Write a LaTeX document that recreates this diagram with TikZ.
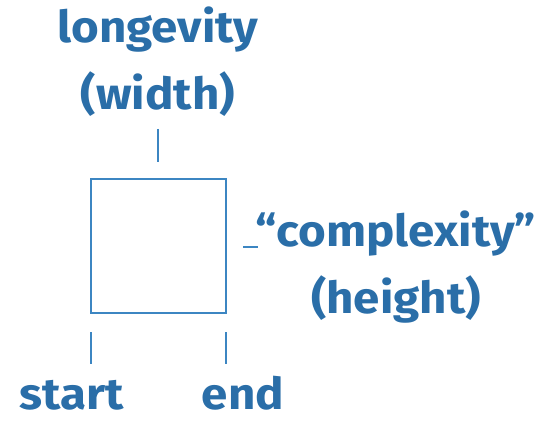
\documentclass[tikz,border=0pt]{standalone}
\usepackage{fontspec}
\setmainfont{Fira Sans}[FakeStretch=1.08]
\definecolor{txtblue}{HTML}{2A6EA8}
\definecolor{lineblue}{HTML}{3C86C2}
\begin{document}
\begin{tikzpicture}[x=1pt,y=-1pt,
  lbl/.style={text=txtblue,font=\fontsize{44}{48}\selectfont\bfseries,inner sep=0pt,anchor=base},
  tick/.style={draw=lineblue,line width=1.6pt},
  boxst/.style={draw=lineblue,line width=2pt}]
\useasboundingbox (0,0) rectangle (538,422);
\draw[boxst] (91,179) rectangle (226,313);
\coordinate (t1) at (158,129); \coordinate (t2) at (158,162);
\coordinate (r1) at (243,247); \coordinate (r2) at (258,247);
\coordinate (s1) at (91,332); \coordinate (s2) at (91,364);
\coordinate (e1) at (226,332); \coordinate (e2) at (226,364);
\draw[tick] (t1) -- (t2);
\draw[tick] (r1) -- (r2);
\draw[tick] (s1) -- (s2);
\draw[tick] (e1) -- (e2);
\node[lbl] (lon) at (158,43) {longevity};
\node[lbl] (wid) at (158,110) {(width)};
\node[lbl] (cpx) at (396,247) {“complexity”};
\node[lbl] (hei) at (396,313) {(height)};
\node[lbl] (sta) at (72,409) {start};
\node[lbl] (end) at (243,409) {end};
\end{tikzpicture}
\end{document}
